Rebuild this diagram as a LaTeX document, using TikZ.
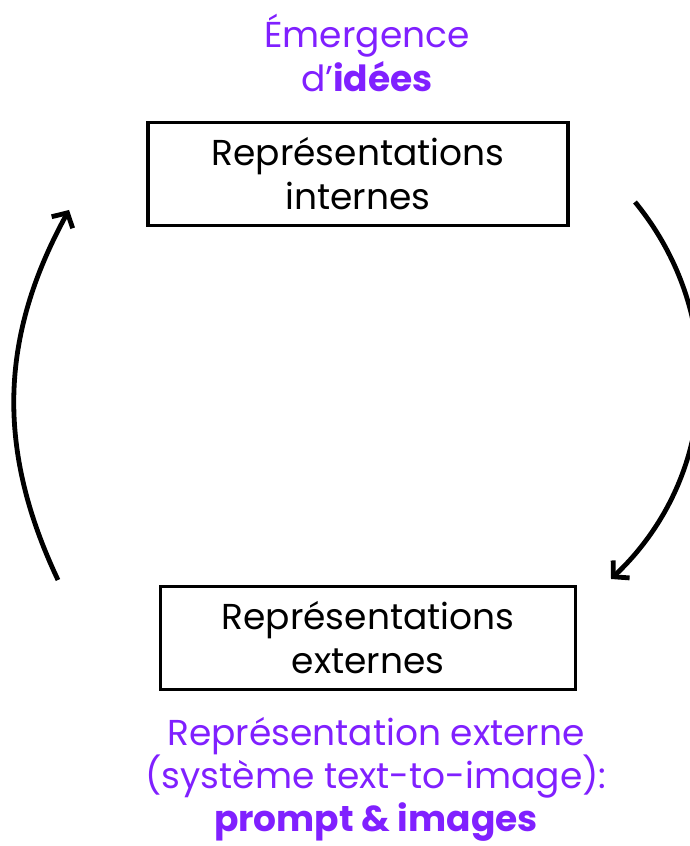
\documentclass[tikz,border=0pt]{standalone}
\usepackage{fontspec}
\setmainfont{Poppins}
\usetikzlibrary{arrows.meta,positioning}
\definecolor{idea}{RGB}{128,32,255}
\begin{document}
\begin{tikzpicture}[x=0.5pt,y=0.5pt,
    repbox/.style={draw,line width=1.8pt,minimum width=210pt,minimum height=51.5pt,
        align=center,font=\fontsize{18}{22}\selectfont,inner sep=0pt},
    note/.style={text=idea,align=center,font=\fontsize{18}{22}\selectfont},
    loop/.style={line width=2.4pt,-{Straight Barb[length=5.5pt,width=12pt,line width=2.4pt]}}]
    \useasboundingbox (0,0) rectangle (690,846);
    % Boxes
    \node[repbox] (int) at (358,672) {Représentations\\internes};
    \node[repbox,minimum width=207.5pt] (ext) at (368,208) {Représentations\\externes};
    % Notes
    \node[note] (emerg) at (367,793) {Émergence\\d’\textbf{idées}};
    \node[note,font=\fontsize{18}{21.5}\selectfont] (tti) at (376,67)
        {Représentation externe\\(système text-to-image):\\\textbf{prompt \& images}};
    % Arrows
    \coordinate (lstart) at (58,266);
    \coordinate (lend) at (69,636);
    \coordinate (rstart) at (635,644);
    \coordinate (rend) at (611,267);
    \draw[loop] (lstart) to[bend left=27] (lend);
    \draw[loop] (rstart) to[bend left=43] (rend);
\end{tikzpicture}
\end{document}
